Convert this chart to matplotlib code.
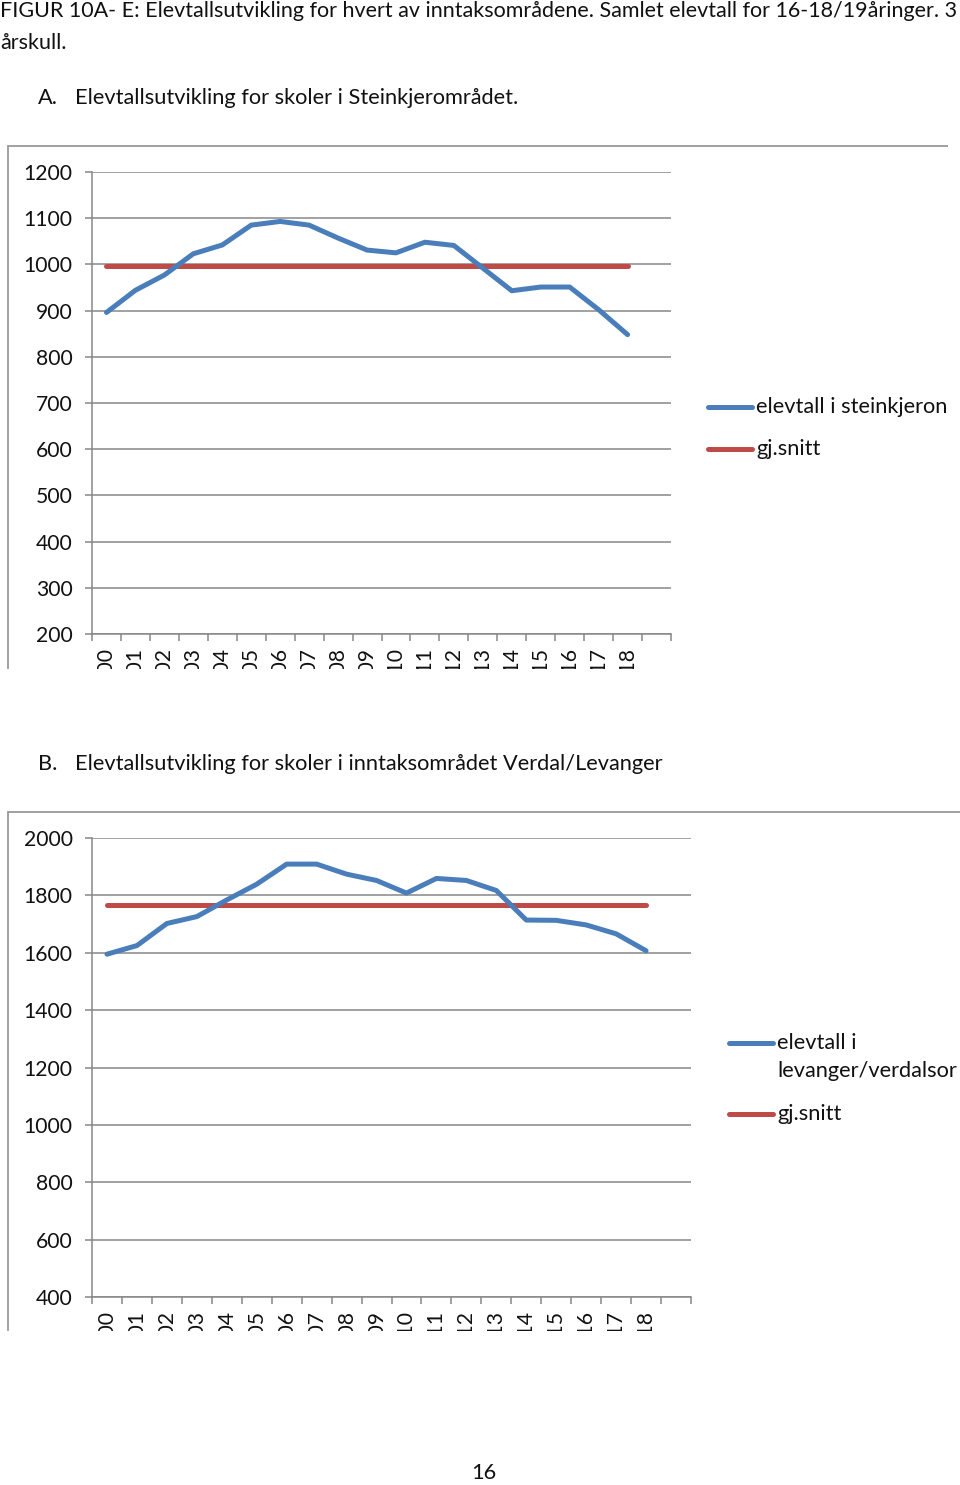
import matplotlib
matplotlib.use('Agg')
import matplotlib.pyplot as plt
from matplotlib.lines import Line2D
from matplotlib.patches import Rectangle

plt.rcParams['font.family'] = ['Lato', 'DejaVu Sans']

W, H = 960, 1485

# ---------------- data ----------------
years = ['2000', '2001', '2002', '2003', '2004', '2005', '2006', '2007', '2008', '2009',
         '2010', '2011', '2012', '2013', '2014', '2015', '2016', '2017', '2018']

steinkjer = [896, 944, 977, 1023, 1042, 1085, 1093, 1085, 1057, 1031,
             1025, 1048, 1041, 992, 943, 951, 951, 902, 848]
steinkjer_avg = 996

verdal = [1595, 1625, 1702, 1726, 1784, 1839, 1909, 1909, 1874, 1852,
          1808, 1859, 1852, 1817, 1714, 1713, 1697, 1666, 1607]
verdal_avg = 1765

label_a = 'elevtall i steinkjeron'
label_b = ['elevtall i', 'levanger/verdalsor']
label_avg = 'gj.snitt'

title1 = 'FIGUR 10A- E: Elevtallsutvikling for hvert av inntaksområdene. Samlet elevtall for 16-18/19åringer. 3'
title2 = 'årskull.'
head_a = 'Elevtallsutvikling for skoler i Steinkjerområdet.'
head_b = 'Elevtallsutvikling for skoler i inntaksområdet Verdal/Levanger'
page_no = '16'

BLUE = '#4A7EBB'
RED = '#BE4B48'
GRID = '#878787'
FRAME = '#9a9a9a'
TXT = '#111111'
FS_TITLE = 15.5
FS_TEXT = 15.7
FS_TICK = 15.2

fig = plt.figure(figsize=(W / 100, H / 100), dpi=100)


def fx(x):
    return x / W


def fy(y):
    return 1 - y / H


def add_axes_px(l, t, r, b):
    return fig.add_axes([l / W, 1 - b / H, (r - l) / W, (b - t) / H])


def hline(x0, x1, y, color, lw, cap='butt'):
    fig.add_artist(Line2D([fx(x0), fx(x1)], [fy(y), fy(y)], color=color, lw=lw,
                          solid_capstyle=cap, transform=fig.transFigure))


def vline(x, y0, y1, color, lw):
    fig.add_artist(Line2D([fx(x), fx(x)], [fy(y0), fy(y1)], color=color, lw=lw,
                          transform=fig.transFigure))


def chart(ax, values, avg, ymin, ymax, step, nslots=20):
    n = len(values)
    xs = list(range(n))
    ax.plot(xs, values, color=BLUE, lw=3.6, solid_capstyle='round',
            solid_joinstyle='round', zorder=4, clip_on=False)
    ax.plot(xs, [avg] * n, color=RED, lw=3.6, solid_capstyle='round', zorder=3, clip_on=False)
    ax.set_xlim(-0.5, nslots - 0.5)
    ax.set_ylim(ymin, ymax)
    ax.set_yticks(list(range(ymin, ymax + 1, step)))
    ax.yaxis.grid(True, color=GRID, lw=1.1)
    ax.set_axisbelow(True)
    for s in ['top', 'right']:
        ax.spines[s].set_visible(False)
    for s in ['left', 'bottom']:
        ax.spines[s].set_color(GRID)
        ax.spines[s].set_linewidth(1.1)
    ax.tick_params(axis='y', length=5, width=1.1, color=GRID, pad=9,
                   labelsize=FS_TICK, labelcolor=TXT)
    ax.set_xticks(xs)
    ax.set_xticklabels(years, rotation=90, va='top', ha='center')
    ax.tick_params(axis='x', which='major', length=0, pad=10, labelsize=FS_TICK, labelcolor=TXT)
    ax.set_xticks([i - 0.5 for i in range(nslots + 1)], minor=True)
    ax.tick_params(axis='x', which='minor', length=5, width=1.1, color=GRID)
    ax.patch.set_alpha(0)


def text(x, y, s, fs=FS_TEXT, ha='left'):
    fig.text(fx(x), fy(y), s, ha=ha, va='center', fontsize=fs, color=TXT)


# ---------------- texts ----------------
text(0, 11, title1, FS_TITLE)
text(0, 43, title2, FS_TITLE)
text(38, 98, 'A.')
text(75, 98, head_a)
text(38, 764, 'B.')
text(75, 764, head_b)
text(484, 1473, page_no, ha='center')

# ---------------- chart A ----------------
hline(8, 948, 146, FRAME, 1.3)
vline(8, 146, 668, FRAME, 1.3)
axA = add_axes_px(92, 172, 671, 634)
chart(axA, steinkjer, steinkjer_avg, 200, 1200, 100)

# legend A
hline(708, 752, 407, BLUE, 3.6, 'round')
text(756, 407, label_a)
hline(708, 752, 449, RED, 3.6, 'round')
text(756, 449, label_avg)

# ---------------- chart B ----------------
hline(8, 960, 812, FRAME, 1.3)
vline(8, 812, 1330, FRAME, 1.3)
axB = add_axes_px(92, 838, 691, 1297)
chart(axB, verdal, verdal_avg, 400, 2000, 200)

# legend B
hline(729, 773, 1043, BLUE, 3.6, 'round')
text(777, 1043, label_b[0])
text(777, 1071, label_b[1])
hline(729, 773, 1114, RED, 3.6, 'round')
text(777, 1114, label_avg)

# ---------------- cut-off chart bottoms (as in the source page) ----------------
for top, bot in [(669, 745), (1331, 1455)]:
    fig.add_artist(Rectangle((0, fy(bot)), 1, (bot - top) / H, facecolor='white',
                             edgecolor='none', transform=fig.transFigure, zorder=20))

fig.savefig('out.png', dpi=100, facecolor='white')
